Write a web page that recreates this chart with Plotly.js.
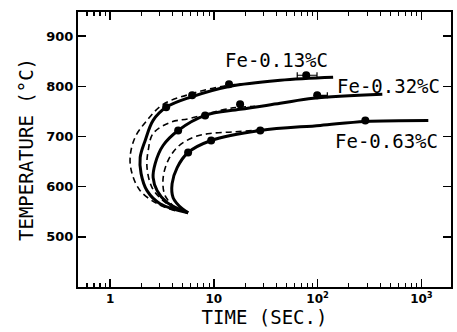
<!DOCTYPE html>
<html><head><meta charset="utf-8">
<script src="https://cdn.plot.ly/plotly-3.0.1.min.js"></script>
<style>html,body{margin:0;padding:0;background:#fff}#chart{width:457px;height:332px}</style>
</head><body><div id="chart"></div>
<script>
// Solid fitted curves (time in s, temperature in °C)
const t013 = [5.65, 3.03, 2.27, 1.99, 1.95, 2.18, 2.60, 3.47, 5.91, 14.4, 43.6, 141];
const T013 = [548, 566, 592, 626, 658, 692, 732, 758, 778, 800, 812, 818];
const t032 = [5.65, 3.55, 2.84, 2.60, 2.72, 3.24, 4.53, 8.24, 17.9, 43.6, 90.7, 420];
const T032 = [548, 568, 592, 618, 646, 682, 712, 742, 754, 766, 776, 784];
const t063 = [5.65, 4.95, 4.05, 3.96, 4.43, 5.65, 9.42, 28.0, 106, 288, 1165];
const T063 = [548, 556, 578, 606, 638, 668, 692, 712, 722, 730, 732];
// Dashed curves
const dt013 = [4.24, 2.84, 1.95, 1.63, 1.56, 1.74, 2.27, 3.24, 6.31, 12.3, 20];
const dT013 = [552, 566, 592, 626, 658, 698, 732, 764, 786, 800, 805];
const dt032 = [4.24, 3.24, 2.54, 2.27, 2.33, 2.60, 3.79, 5.91, 14.4, 25];
const dT032 = [556, 572, 598, 638, 672, 706, 728, 736, 756, 760];
const dt063 = [4.24, 3.39, 3.24, 3.62, 4.53, 6.3, 9.2, 15.3, 28];
const dT063 = [558, 582, 616, 652, 680, 698, 706, 709, 713];
// Measured points
const pt013 = [3.47, 6.18, 14.0, 77.6];
const pT013 = [758, 782, 804, 822];
const pt032 = [4.53, 8.24, 17.9, 99];
const pT032 = [712, 742, 764, 782];
const pt063 = [5.65, 9.42, 28.0, 288];
const pT063 = [668, 692, 712, 732];
const errPlus013 = [0, 0, 0, 21];
const errMinus013 = [0, 0, 0, 14];
const errPlus032 = [0, 0, 0, 25];
const errMinus032 = [0, 0, 0, 0];
// Labels
const labels = ['Fe-0.13%C', 'Fe-0.32%C', 'Fe-0.63%C'];
const labelX = [12.3, 1590, 1520];
const labelT = [852, 800, 690];
const xTickVals = [1, 10, 100, 1000];
const xTickText = ['1', '10', '10<sup>2</sup>', '10<sup>3</sup>'];
const xMinorVals = [0.5, 0.6, 0.7, 0.8, 0.9, 2, 3, 4, 5, 6, 7, 8, 9, 20, 30, 40, 50, 60, 70, 80, 90, 200, 300, 400, 500, 600, 700, 800, 900];
const yTickVals = [500, 600, 700, 800, 900];

const solid = (x, y) => ({x, y, type:'scatter', mode:'lines', line:{color:'black', width:3, shape:'spline', smoothing:1}, hoverinfo:'skip'});
const dashed = (x, y) => ({x, y, type:'scatter', mode:'lines', line:{color:'black', width:1.6, dash:'6px,4px', shape:'spline', smoothing:1}, hoverinfo:'skip'});
const pts = (x, y, ep, em) => {
  const tr = {x, y, type:'scatter', mode:'markers', marker:{color:'black', size:8}};
  if (ep) tr.error_x = {type:'data', array:ep, arrayminus:em, symmetric:false, color:'black', thickness:1.2, width:3};
  return tr;
};

const data = [
  solid(t013, T013), solid(t032, T032), solid(t063, T063),
  dashed(dt013, dT013), dashed(dt032, dT032), dashed(dt063, dT063),
  pts(pt013, pT013, errPlus013, errMinus013), pts(pt032, pT032, errPlus032, errMinus032), pts(pt063, pT063)
];

const mono = 'DejaVu Sans Mono, monospace';
const layout = {
  width:457, height:332,
  margin:{l:78, r:6, t:12, b:45},
  showlegend:false,
  paper_bgcolor:'white', plot_bgcolor:'white',
  xaxis:{
    type:'log', range:[-0.309, 3.285],
    tickvals:xTickVals, ticktext:xTickText,
    ticks:'inside', ticklen:8, tickwidth:1.5, tickcolor:'black',
    minor:{tickvals:xMinorVals, ticks:'inside', ticklen:4, tickwidth:1.2, tickcolor:'black', showgrid:false},
    showgrid:false, zeroline:false,
    showline:true, linecolor:'black', linewidth:2, mirror:'allticks',
    tickfont:{family:'DejaVu Sans', size:12, color:'black', weight:'bold'},
    title:{text:'TIME (SEC.)', font:{family:mono, size:19, color:'black'}, standoff:4}
  },
  yaxis:{
    range:[400, 948],
    tickvals:yTickVals,
    ticks:'inside', ticklen:8, tickwidth:1.5, tickcolor:'black',
    showgrid:false, zeroline:false,
    showline:true, linecolor:'black', linewidth:2, mirror:'allticks',
    tickfont:{family:'DejaVu Sans', size:13, color:'black', weight:'bold'},
    title:{text:'TEMPERATURE (°C)', font:{family:mono, size:19, color:'black'}, standoff:8}
  },
  annotations: labels.map((txt, i) => ({
    x: Math.log10(labelX[i]), y: labelT[i], xref:'x', yref:'y',
    text: txt, showarrow:false, xanchor: i === 0 ? 'left' : 'right', yanchor:'middle',
    font:{family:mono, size:19, color:'black'}
  }))
};
Plotly.newPlot('chart', data, layout, {staticPlot:true});
</script></body></html>
